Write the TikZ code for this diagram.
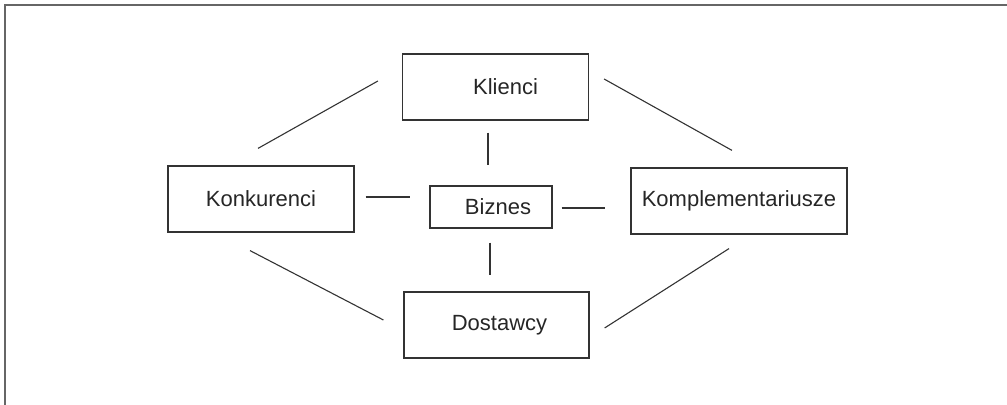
\documentclass[tikz,border=0pt]{standalone}
\usepackage{fontspec}
\setmainfont{Liberation Sans}
\usepackage{tikz}
\usetikzlibrary{positioning}

\begin{document}
\begin{tikzpicture}[
  x=0.5pt, y=-0.5pt,
  every node/.style={font=\fontsize{11}{13}\selectfont, text=black!85},
  box/.style={draw=black!80, line width=0.6pt, minimum height=33pt,
              minimum width=93pt, inner sep=0pt, align=center},
  link/.style={draw=black!80, line width=0.55pt},
  frame/.style={draw=black!60, line width=1pt}
]
\useasboundingbox (0,0) rectangle (1007,405);
\draw[frame] (4.5,405) -- (4.5,5) -- (1007,5);

\node[box] (klienci) at (495.5,87) {\hspace{10pt}Klienci};
\node[box, minimum width=61pt, minimum height=21pt] (biznes) at (491,207) {\hspace{7pt}Biznes};
\node[box, minimum width=92.5pt] (dostawcy) at (496.5,325) {\hspace{3pt}Dostawcy};
\node[box] (konkurenci) at (261,199) {Konkurenci};
\node[box, minimum width=108pt] (kompl) at (739,201) {Komplementariusze};

% short links round the centre
\draw[link] ([shift={(-7.5,12)}]klienci.south) -- ([shift={(-3,-20)}]biznes.north);
\draw[link] ([shift={(-1,14)}]biznes.south) -- ([shift={(-6.5,-16)}]dostawcy.north);
\draw[link] ([shift={(11,-2)}]konkurenci.east) -- ([shift={(-19,-10)}]biznes.west);
\draw[link] ([shift={(9,1)}]biznes.east) -- ([shift={(-25,7)}]kompl.west);

% outer ring
\draw[link] ([shift={(-3,-17)}]konkurenci.north) -- ([shift={(-24,-6)}]klienci.west);
\draw[link] ([shift={(15,-8)}]klienci.east) -- ([shift={(-7,-17)}]kompl.north);
\draw[link] ([shift={(-11,18)}]konkurenci.south) -- ([shift={(-20,-5)}]dostawcy.west);
\draw[link] ([shift={(15,3)}]dostawcy.east) -- ([shift={(-10,14)}]kompl.south);
\end{tikzpicture}
\end{document}
